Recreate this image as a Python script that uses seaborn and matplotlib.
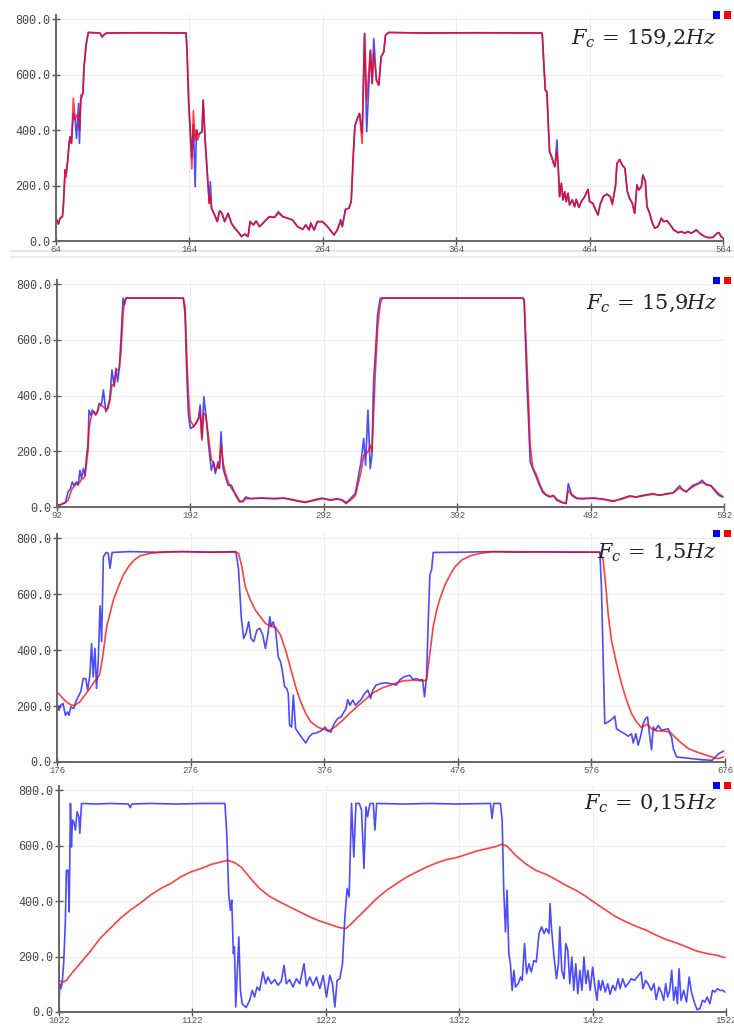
import numpy as np
import pandas as pd
import seaborn as sns
import matplotlib
matplotlib.use("Agg")
import matplotlib.pyplot as plt
from matplotlib.patches import Rectangle

# --- dados (sinal bruto = azul, filtrado = vermelho) ---
fc_labels = ['159{,}2', '15{,}9', '1{,}5', '0{,}15']
y_ticks = [0, 200, 400, 600, 800]

p1_ticks = [64, 164, 264, 364, 464, 564]
p1_x = [64, 65.8, 67, 68.8, 69.5, 70.8, 71.6, 72.8, 73.8, 74.6, 75.6, 77, 78.4, 79.4, 80.9, 81.6, 82.6, 84.2, 85, 86.7,
        88.2, 97, 98.5, 100.5, 102, 130, 161.5, 162.2, 163.5, 164.5, 165.8, 167, 168.3, 169.3, 170.3, 171.8, 173.5, 174.3,
        175.8, 177.3, 178.9, 179.7, 180.6, 182.9, 184.9, 186.7, 188.4, 190.4, 193, 195.5, 198, 201, 203, 205.6, 208, 209.5,
        212, 214, 216.6, 220.3, 224, 227.8, 230.7, 234, 237.7, 241.4, 245, 248.9, 251.3, 253.8, 255, 257.5, 260, 263.8,
        267.5, 270.5, 272.4, 274.9, 277.4, 278.6, 281, 283.6, 285.3, 286.8, 288, 289.8, 291.5, 293.5, 295.3, 296.9, 299.7,
        301, 302.2, 304.2, 306, 307.7, 309.7, 311, 313.4, 340, 380, 427.8, 428.5, 429.8, 430.8, 432, 433, 434, 435.5, 437,
        438, 439.5, 440.5, 441.5, 442.8, 444, 445.3, 446.5, 447.8, 449, 451, 452.8, 454, 456, 457.8, 460.3, 462.8, 464,
        466.5, 468.5, 470.3, 472, 474.5, 477, 479.5, 481, 482, 483.5, 484.5, 486.5, 488.5, 490.5, 492.3, 494, 496, 497.8,
        499.5, 501, 502.8, 504, 505.8, 507, 509, 511, 512.8, 515.3, 517.8, 519.5, 522, 524.5, 527, 530.3, 532.8, 535.3,
        537.8, 540.3, 544, 546.5, 549.5, 552.8, 556.5, 559.5, 561, 562.5, 564]
p1_raw = [82, 61, 82, 88, 124, 256, 244, 292, 352, 376, 352, 460, 436, 370, 496, 352, 508, 532, 628, 712,
          752, 750, 736, 746, 750, 751, 750, 688, 496, 412, 300, 420, 196, 400, 384, 388, 394, 508,
          364, 256, 136, 214, 118, 94, 70, 109, 100, 70, 100, 64, 46, 30, 16, 25, 16, 70,
          58, 72, 52, 70, 88, 85, 106, 88, 82, 76, 52, 42, 58, 40, 66, 40, 70, 70,
          52, 34, 22, 40, 78, 52, 114, 118, 142, 304, 412, 442, 460, 390, 748, 394, 688,
          568, 730, 580, 562, 664, 682, 742, 752, 750, 751, 750, 748, 628, 544, 538, 424, 322, 304, 280,
          268, 364, 262, 160, 208, 148, 178, 142, 172, 130, 148, 124, 150, 121, 142, 160, 186, 142,
          136, 112, 94, 133, 162, 169, 160, 136, 160, 202, 280, 294, 274, 262, 178, 154, 136, 100,
          202, 184, 196, 238, 214, 124, 100, 66, 46, 52, 82, 70, 73, 58, 40, 30, 34, 28,
          34, 28, 40, 28, 18, 12, 13, 28, 30, 16, 12]
p1_filt = [82, 61, 82, 88, 124, 256, 230, 292, 352, 376, 352, 515, 436, 454, 454, 400, 526, 532, 628, 712,
           752, 750, 736, 746, 750, 751, 750, 688, 496, 412, 260, 470, 364, 400, 364, 388, 394, 508,
           364, 256, 136, 160, 118, 94, 70, 109, 100, 70, 100, 64, 46, 30, 16, 25, 16, 70,
           58, 72, 52, 70, 88, 85, 100, 88, 82, 76, 52, 42, 58, 40, 60, 40, 70, 70,
           52, 34, 22, 40, 70, 52, 114, 118, 142, 304, 412, 442, 460, 352, 748, 508, 688,
           568, 676, 580, 562, 664, 682, 742, 752, 750, 751, 750, 748, 628, 544, 538, 424, 322, 304, 280,
           268, 322, 262, 160, 208, 148, 178, 142, 172, 130, 148, 124, 150, 121, 142, 160, 186, 142,
           136, 112, 94, 133, 162, 169, 160, 130, 160, 202, 280, 294, 274, 262, 178, 154, 136, 100,
           202, 184, 196, 238, 214, 124, 100, 66, 46, 52, 82, 70, 73, 58, 40, 30, 34, 28,
           34, 28, 40, 28, 18, 12, 13, 28, 30, 16, 12]

p2_ticks = [92, 192, 292, 392, 492, 592]
p2_x = [92, 94.5, 98.3, 100.3, 102.1, 103.4, 104.6, 106.6, 107.9, 109.2, 110.4, 111.7, 113, 114.2, 115.2, 116, 117.3,
        118.5, 119.8, 121, 122.3, 123.6, 125.3, 126.8, 128.6, 129.9, 131.6, 133.2, 134.9, 136.2, 137.5, 138.7, 140,
        141.5, 142.5, 143.8, 165, 186.7, 188, 189.2, 190.5, 192, 194.3, 196, 198, 199.3, 200.6, 202.1, 203.6, 205.6,
        207.7, 209.4, 210.7, 212.7, 213.7, 215, 216.5, 218.3, 220.3, 222.8, 225.8, 228.9, 231.4, 233.4, 237.2, 244.7,
        254.7, 262.1, 269.6, 273.3, 278.3, 283.3, 290.8, 297, 302, 305.7, 308.9, 311.9, 315.6, 318.1, 319.9, 321.9,
        323.3, 325.1, 326.8, 328.1, 329.3, 330.6, 332.3, 334.3, 336, 390, 441.3, 442.2, 443.2, 444.2, 445.5, 446.7,
        448.7, 451.2, 453.7, 456.2, 458.7, 461.7, 464.1, 466.6, 470.4, 473.6, 475.3, 477.8, 481.6, 486.5, 494, 501.5,
        508.9, 515.1, 521.4, 526.3, 531.3, 538.8, 543.7, 548.7, 553.7, 558.7, 561.2, 563.6, 568.6, 572.3, 575.6, 578.6,
        582.3, 584.8, 588, 591]
p2_raw = [6, 8, 16, 54, 66, 90, 78, 90, 78, 132, 102, 138, 114, 186, 222, 348, 330,
          348, 342, 330, 342, 372, 366, 420, 342, 354, 390, 492, 432, 498, 450, 498, 606,
          750, 726, 750, 750, 750, 690, 486, 330, 282, 288, 300, 318, 366, 246, 396, 330, 222,
          132, 162, 120, 162, 138, 270, 138, 108, 78, 78, 42, 18, 20, 36, 30, 32,
          30, 32, 24, 20, 16, 24, 32, 24, 30, 24, 12, 30, 48, 114, 162, 246,
          150, 348, 138, 186, 450, 546, 690, 750, 750, 750, 750, 738, 594, 450, 306, 162,
          138, 108, 78, 52, 42, 36, 42, 24, 16, 12, 84, 42, 30, 30, 32, 28,
          20, 30, 40, 36, 42, 48, 42, 48, 50, 76, 60, 54, 78, 84, 96, 80,
          76, 60, 42, 36]
p2_filt = [6, 8, 16, 24, 50, 66, 72, 84, 84, 90, 100, 102, 110, 162, 200, 280, 318,
           335, 342, 332, 340, 366, 364, 360, 350, 352, 380, 438, 440, 486, 492, 498, 560,
           690, 738, 750, 750, 750, 720, 560, 400, 310, 290, 298, 315, 342, 240, 336, 330, 250,
           170, 158, 132, 150, 140, 222, 160, 120, 90, 66, 48, 22, 20, 30, 30, 32,
           30, 32, 26, 22, 18, 22, 30, 26, 28, 26, 16, 24, 40, 90, 126, 186,
           190, 198, 222, 200, 330, 480, 640, 730, 750, 750, 750, 745, 640, 520, 380, 220,
           140, 118, 84, 58, 44, 38, 40, 28, 18, 14, 60, 46, 32, 30, 32, 28,
           22, 28, 38, 36, 40, 46, 42, 46, 50, 68, 62, 56, 72, 82, 88, 82,
           76, 64, 48, 38]

p3_ticks = [176, 276, 376, 476, 576, 676]
p3_raw_x = [176, 177.5, 178.8, 180.5, 182.3, 183.8, 185, 186.3, 188.6, 190, 191.8, 193.8, 195.6, 197.6, 198.9, 200.6,
            201.9, 203.1, 204.4, 205.6, 206.9, 208.2, 209.4, 210.7, 212.7, 214.4, 215.7, 217.2, 230, 250, 270, 290,
            309.9, 311.9, 313.9, 315.7, 317.5, 319.5, 321.2, 323.2, 325.7, 327.8, 330, 332, 334, 335.3, 336.3, 337.8,
            339.6, 341.6, 343.3, 344.6, 346.4, 347.9, 349.1, 350.1, 351.6, 352.9, 354.6, 357.2, 359.7, 362.2, 364.7,
            367.2, 370.2, 373.5, 376.8, 378.5, 381, 383.5, 386, 388.6, 392.3, 393.6, 395.3, 397.4, 399.4, 401.1, 403.6,
            406.2, 408.7, 410.7, 412.4, 414.9, 418.7, 422.5, 427.5, 430, 432.5, 435.5, 437.6, 440, 442.6, 445.1, 447.6,
            449.6, 451.1, 452.6, 453.9, 455.1, 456.4, 457.6, 480, 500, 520, 540, 560, 582.3, 583.5, 584.8, 586, 588.5,
            590.3, 591.8, 593.5, 594.8, 597.3, 601, 603.5, 606, 607.3, 609.3, 611, 613, 614.8, 616.5, 618, 619.3, 621,
            622.3, 624, 626, 628.5, 631, 633.5, 634.8, 636, 637.3, 639.8, 643.8, 651.3, 658.8, 666.3, 668.8, 671.3, 675]
p3_raw = [209, 185, 203, 209, 167, 179, 167, 197, 191, 215, 233, 251, 298, 298, 257, 310,
          424, 304, 406, 263, 364, 558, 430, 734, 749, 746, 692, 749, 752, 750, 752, 750,
          752, 687, 519, 442, 460, 501, 442, 430, 472, 478, 454, 406, 460, 519, 484, 501,
          472, 376, 358, 328, 269, 263, 245, 131, 125, 239, 119, 101, 84, 68, 90,
          101, 104, 111, 125, 111, 107, 137, 155, 161, 191, 223, 203, 221, 203, 211, 223,
          245, 257, 227, 257, 275, 281, 283, 278, 275, 293, 304, 307, 310, 295, 298, 293,
          295, 233, 304, 507, 669, 687, 749, 750, 752, 750, 751, 750, 750, 627, 364, 137, 143,
          149, 155, 164, 119, 111, 101, 92, 101, 68, 101, 60, 95, 137, 155, 161, 107, 44,
          125, 113, 131, 113, 116, 119, 101, 90, 48, 18, 16, 12, 8, 6, 18, 30, 39]
p3_filt_x = [176, 179.3, 183, 186.8, 189.3, 193.1, 196.9, 200.6, 204.4, 207.7, 209.4, 211.2, 213.2, 215.7, 218.2, 222,
             225.7, 229.5, 233.3, 238.3, 245.8, 258.4, 271, 290, 309.9, 311.9, 314.4, 316.9, 320.7, 324.5, 328.3, 332,
             335.8, 339.6, 343.3, 347.1, 350.9, 354.6, 358.4, 362.2, 366, 371, 376, 379.8, 384.8, 389.8, 394.8, 399.9,
             406.2, 412.4, 420, 427.5, 435, 442.6, 450.1, 452.6, 455.1, 457.6, 460.2, 462.7, 466.4, 470.2, 474, 479,
             485.3, 492.8, 502.8, 540, 582.3, 584.8, 586.8, 588.5, 591, 594.8, 598.5, 602.3, 606, 609.8, 613.5, 617.5,
             621, 624.8, 629.8, 634.8, 637.3, 642.3, 648.5, 654.8, 662.3, 667.3, 671, 674.8]
p3_filt = [251, 233, 215, 203, 203, 215, 239, 263, 290, 310, 352, 412, 484, 531, 579, 627,
           669, 698, 720, 737, 746, 751, 752, 750, 750, 746, 698, 627, 579, 543, 519, 495,
           486, 481, 454, 400, 334, 269, 215, 173, 143, 125, 116, 113, 128, 149, 173, 195,
           221, 247, 266, 278, 290, 293, 290, 293, 388, 484, 543, 585, 633, 669, 698, 722,
           737, 746, 752, 751, 750, 722, 627, 531, 436, 352, 281, 221, 173, 143, 123, 135,
           119, 111, 111, 107, 95, 72, 48, 36, 24, 16, 12, 18]

p4_ticks = [1022, 1122, 1222, 1322, 1422, 1522]
p4_raw_x = [1022, 1022.5, 1023.3, 1024.3, 1025.5, 1026.8, 1027.5, 1028.8, 1029.6, 1030.6, 1031.3, 1032.1, 1033.1, 1034.3,
            1035.6, 1036.9, 1037.6, 1038.9, 1050, 1060, 1074, 1075.4, 1076.5, 1090, 1110, 1130, 1146.4, 1147.9, 1149.2,
            1150.5, 1151.5, 1152.7, 1153.5, 1154.5, 1155.5, 1156.8, 1158, 1159.3, 1162.3, 1164.9, 1166.9, 1168.6, 1170.4,
            1172.4, 1174.9, 1176.9, 1178.6, 1181.1, 1183.7, 1186.2, 1188.7, 1190.7, 1192.4, 1194.9, 1197.4, 1199.9,
            1202.5, 1205.7, 1207.5, 1210, 1212.5, 1215, 1217.5, 1220, 1222.5, 1225, 1227, 1228.8, 1230.5, 1232.5, 1234.5,
            1236.3, 1238, 1239.5, 1241.3, 1243, 1244.6, 1247.1, 1248.8, 1250.6, 1252.1, 1253.3, 1255.1, 1257.6, 1258.8,
            1260.1, 1280, 1300, 1320, 1345.4, 1346.6, 1347.9, 1352.9, 1354.2, 1355.4, 1356.7, 1357.9, 1359.2, 1360.4,
            1361.7, 1363, 1364.2, 1366.2, 1368, 1369.2, 1371, 1372.5, 1374.3, 1376, 1378, 1379.8, 1381.8, 1383.8, 1385.6,
            1387.3, 1389.3, 1390.1, 1391.3, 1393.1, 1394.9, 1396.4, 1397.4, 1398.9, 1400.6, 1401.9, 1403.4, 1404.9,
            1406.4, 1407.9, 1409.4, 1410.9, 1412.5, 1414, 1415.5, 1417, 1418.5, 1420.2, 1422, 1423.8, 1425.3, 1426.5,
            1428, 1429.5, 1431.5, 1433.3, 1435.1, 1437.1, 1439.1, 1441.1, 1442.6, 1444.6, 1446.6, 1448.6, 1450.9, 1453.4,
            1455.9, 1458.4, 1459.7, 1461.7, 1463.5, 1466, 1468, 1469.7, 1471.7, 1473.5, 1475.3, 1476.8, 1478.3, 1479.8,
            1481.3, 1482.8, 1484.3, 1485.6, 1486.8, 1488.3, 1490.3, 1492.4, 1494.4, 1496.1, 1498.6, 1500.4, 1502.4,
            1504.4, 1506.2, 1507.9, 1509.9, 1511.9, 1513.7, 1515.5, 1517.5, 1519.5, 1521.2]
p4_raw = [6, 102, 84, 102, 174, 331, 511, 511, 361, 752, 595, 692, 686, 656,
          722, 704, 644, 752, 750, 752, 750, 737, 750, 752, 750, 752, 752, 632, 427,
          367, 403, 211, 235, 18, 126, 271, 78, 30, 16, 42, 78, 54, 90,
          78, 144, 102, 126, 102, 117, 96, 112, 168, 102, 117, 90, 120,
          102, 174, 93, 126, 96, 126, 84, 132, 54, 132, 102, 18, 114, 120, 174,
          343, 445, 415, 752, 559, 752, 752, 728, 517, 740, 704, 752, 752, 656,
          752, 750, 752, 750, 752, 698, 752, 752, 692, 439, 289, 439, 211, 174,
          78, 150, 90, 102, 126, 114, 247, 138, 174, 144, 186, 180, 283, 307, 283,
          301, 283, 391, 295, 198, 120, 174, 307, 150, 120, 247, 223, 102,
          198, 78, 174, 66, 150, 78, 198, 102, 150, 78, 162, 90, 42, 114,
          78, 114, 72, 102, 64, 96, 78, 120, 84, 120, 90, 102, 120, 114,
          129, 144, 84, 114, 102, 78, 102, 45, 90, 72, 42, 102, 54, 78,
          150, 42, 90, 30, 156, 42, 78, 36, 126, 72, 30, 8, 12,
          42, 36, 54, 30, 78, 72, 84, 78, 78, 72]
p4_filt_x = [1022, 1025, 1027.5, 1031.3, 1037.6, 1045.2, 1052.7, 1060.3, 1067.8, 1075.4, 1083, 1090.5, 1098.1, 1105.6,
             1113.2, 1120.7, 1128.3, 1135.9, 1143.4, 1148.4, 1153.5, 1158.5, 1164.8, 1172.4, 1179.9, 1187.4, 1194.9,
             1202.5, 1210, 1217.5, 1225, 1232.5, 1237, 1240, 1245, 1252.6, 1260.1, 1267.6, 1275.1, 1282.7, 1290.2,
             1297.7, 1305.2, 1312.7, 1320.2, 1327.8, 1335.3, 1342.8, 1350.3, 1354.2, 1357.9, 1364.2, 1371.7, 1379.3,
             1386.8, 1394.4, 1401.9, 1409.4, 1417, 1424.5, 1432, 1439.6, 1447.1, 1454.7, 1462.2, 1469.7, 1477.3, 1484.8,
             1492.3, 1499.9, 1507.4, 1514.9, 1521.2]
p4_filt = [112, 108, 114, 138, 174, 217, 265, 301, 337, 367, 393, 421, 445, 463,
           487, 505, 517, 532, 541, 547, 539, 523, 486, 445, 417, 397, 379,
           361, 343, 328, 316, 304, 301, 313, 337, 373, 409, 439, 463, 487, 505,
           523, 538, 550, 557, 569, 581, 589, 598, 605, 598, 565, 535, 511,
           497, 478, 457, 439, 417, 391, 367, 343, 325, 309, 295, 277, 261, 249,
           235, 220, 211, 205, 196]

panels = [
    (p1_x, p1_raw, p1_x, p1_filt, p1_ticks),
    (p2_x, p2_raw, p2_x, p2_filt, p2_ticks),
    (p3_raw_x, p3_raw, p3_filt_x, p3_filt, p3_ticks),
    (p4_raw_x, p4_raw, p4_filt_x, p4_filt, p4_ticks),
]

# posicoes em pixels (esq, dir, topo, base) de cada painel
W, H = 734, 1025
boxes = [(56, 723, 15, 241), (57, 724, 280, 507), (57, 725, 534, 762), (59, 726, 786, 1012)]
txt_y = [38, 303, 552, 803]
leg_y = [15, 280, 533, 785]

sns.set_theme(style="white")
plt.rcParams['mathtext.fontset'] = 'dejavuserif'

fig = plt.figure(figsize=(W / 100, H / 100), dpi=100)

# faixas cinza entre o primeiro e o segundo painel (atras dos eixos)
fig.add_artist(plt.Line2D([10 / W, 1], [1 - 251 / H] * 2, color='#e6e6e6', lw=1.5, zorder=-1))
fig.add_artist(plt.Line2D([10 / W, 1], [1 - 256.5 / H] * 2, color='#ececec', lw=1.5, zorder=-1))

for i, (xr, yr, xf, yf, ticks) in enumerate(panels):
    l, r, t, b = boxes[i]
    ax = fig.add_axes([l / W, 1 - b / H, (r - l) / W, (b - t) / H])
    df_raw = pd.DataFrame({'x': xr, 'y': yr})
    df_filt = pd.DataFrame({'x': xf, 'y': yf})
    sns.lineplot(data=df_raw, x='x', y='y', ax=ax, color='#0000ff', alpha=0.7, lw=1.2, estimator=None)
    sns.lineplot(data=df_filt, x='x', y='y', ax=ax, color='#ff0000', alpha=0.75, lw=1.2, estimator=None)

    ax.set_xlim(ticks[0], ticks[-1])
    ax.set_ylim(0, 815)
    ax.set_xticks(ticks)
    ax.set_xticklabels([str(v) for v in ticks], fontsize=6.5, family='Liberation Mono', color='#555555')
    ax.set_yticks(y_ticks)
    ax.set_yticklabels(['{:.1f}'.format(v) for v in y_ticks], fontsize=8.5, family='Liberation Mono', color='#444444')
    ax.set_xlabel('')
    ax.set_ylabel('')
    ax.grid(True, color='#ececec', lw=0.8)
    for s in ['top', 'right']:
        ax.spines[s].set_visible(False)
    for s in ['left', 'bottom']:
        ax.spines[s].set_color('#666666')
        ax.spines[s].set_linewidth(1.4)
    ax.tick_params(axis='y', direction='inout', length=6, width=1, color='#555555', pad=1, left=True)
    ax.tick_params(axis='x', direction='inout', length=6, width=1, color='#555555', pad=0, bottom=True)

    fig.text(717 / W, 1 - txt_y[i] / H, r'$F_c\,=\,' + fc_labels[i] + r'Hz$',
             ha='right', va='center', fontsize=15, color='#222222')

    for cx, c in [(716, '#0000ff'), (727, '#ff0000')]:
        fig.patches.append(Rectangle(((cx - 3.5) / W, 1 - (leg_y[i] + 3.5) / H), 7 / W, 7 / H,
                                     transform=fig.transFigure, color=c, lw=0))

fig.savefig('out.png', dpi=100)
